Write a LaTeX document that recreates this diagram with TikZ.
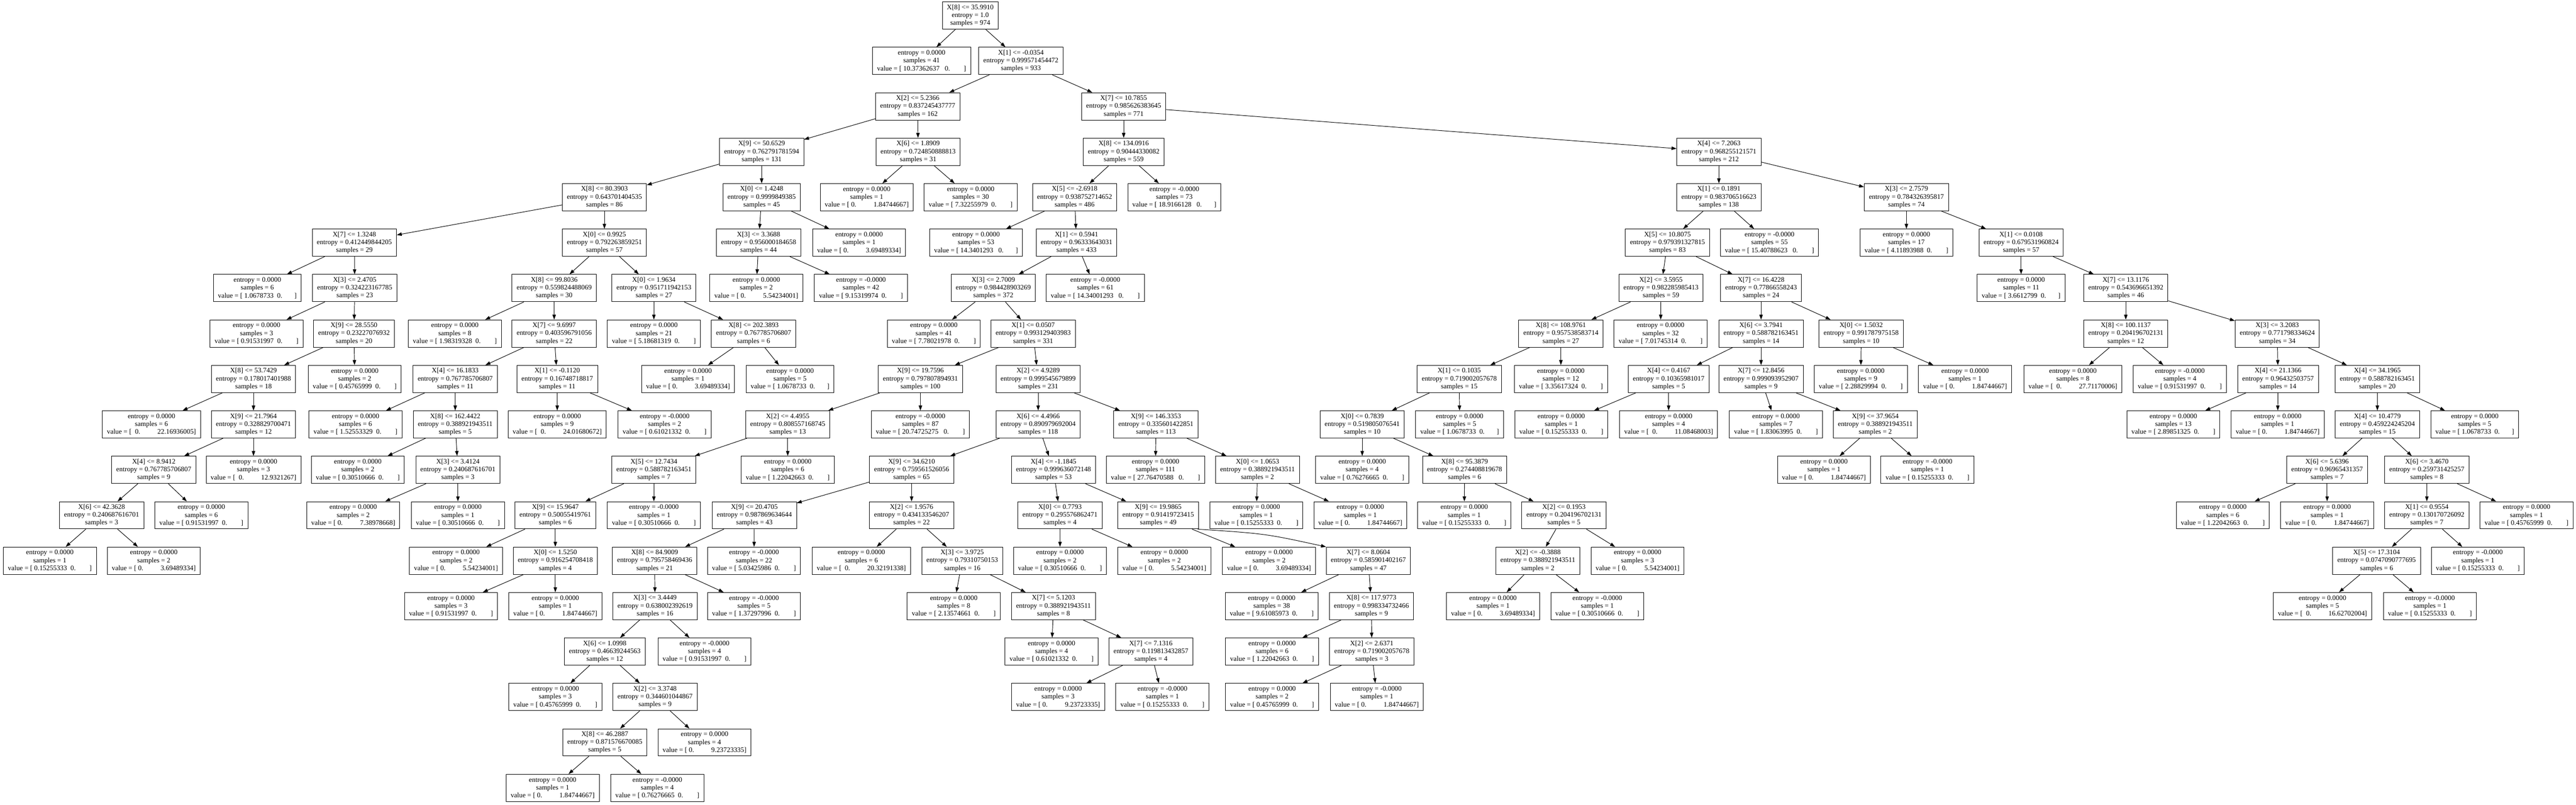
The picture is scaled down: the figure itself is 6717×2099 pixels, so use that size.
\documentclass[tikz,border=0pt]{standalone}
\usepackage{fontspec}
\setmainfont{Liberation Serif}
\usetikzlibrary{arrows.meta}
\newcommand\gsp[1]{\hspace*{#1\fontdimen2\font}}
\newcommand\spl[4]{X[#1] <= #2\\entropy = #3\\samples = #4}
\newcommand\lf[3]{entropy = #1\\samples = #2\\value = [#3]}
\newcommand\vz[3]{ #1\gsp{#2}0.\gsp{#3}}
\newcommand\vo[2]{\gsp{#1}0.\gsp{10}#2}
\tikzset{
  nd/.style={draw, line width=0.013cm, rectangle, align=center, inner xsep=0.12cm, inner ysep=0cm,
    minimum height=0.71cm, font=\fontsize{5.12}{5.83}\selectfont},
  arr/.style={line width=0.013cm, -{Triangle[length=0.13cm,width=0.09cm]}}
}
\begin{document}
\begin{tikzpicture}[x=0.01cm,y=-0.01cm]
\useasboundingbox (0,0) rectangle (6717,2099);
% L0
\node[nd] (n0) at (2530,40.5) {\spl{8}{35.9910}{1.0}{974}};
% L1
\node[nd] (n1) at (2403,159) {\lf{0.0000}{41}{\vz{10.37362637}{3}{8}}};
\node[nd] (n2) at (2662,159) {\spl{1}{-0.0354}{0.999571454472}{933}};
% L2
\node[nd] (n3) at (2393,277.5) {\spl{2}{5.2366}{0.837245437777}{162}};
\node[nd] (n4) at (2930,277.5) {\spl{7}{10.7855}{0.985626383645}{771}};
% L3
\node[nd] (n5) at (1986,396) {\spl{9}{50.6529}{0.762791781594}{131}};
\node[nd] (n6) at (2394,396) {\spl{6}{1.8909}{0.724850888813}{31}};
\node[nd] (n7) at (2930,396) {\spl{8}{134.0916}{0.90444330082}{559}};
\node[nd] (n8) at (4482,396) {\spl{4}{7.2063}{0.968255121571}{212}};
% L4
\node[nd] (n9) at (1576,514.5) {\spl{8}{80.3903}{0.643701404535}{86}};
\node[nd] (n10) at (1986,514.5) {\spl{0}{1.4248}{0.9999849385}{45}};
\node[nd] (n11) at (2260,514.5) {\lf{0.0000}{1}{\vo{1}{1.84744667}}};
\node[nd] (n12) at (2531,514.5) {\lf{0.0000}{30}{\vz{7.32255979}{2}{8}}};
\node[nd] (n13) at (2802,514.5) {\spl{5}{-2.6918}{0.938752714652}{486}};
\node[nd] (n14) at (3062,514.5) {\lf{-0.0000}{73}{\vz{18.9166128}{3}{7}}};
\node[nd] (n15) at (4482,514.5) {\spl{1}{0.1891}{0.983706516623}{138}};
\node[nd] (n16) at (4971,514.5) {\spl{3}{2.7579}{0.784326395817}{74}};
% L5
\node[nd] (n17) at (924,633) {\spl{7}{1.3248}{0.412449844205}{29}};
\node[nd] (n18) at (1576,633) {\spl{0}{0.9925}{0.792263859251}{57}};
\node[nd] (n19) at (1978,633) {\spl{3}{3.3688}{0.956000184658}{44}};
\node[nd] (n20) at (2240,633) {\lf{0.0000}{1}{\vo{1}{3.69489334}}};
\node[nd] (n21) at (2545,633) {\lf{0.0000}{53}{\vz{14.3401293}{3}{7}}};
\node[nd] (n22) at (2807,633) {\spl{1}{0.5941}{0.96333643031}{433}};
\node[nd] (n23) at (4348,633) {\spl{5}{10.8075}{0.979391327815}{83}};
\node[nd] (n24) at (4614,633) {\lf{-0.0000}{55}{\vz{15.40788623}{3}{8}}};
\node[nd] (n25) at (4971,633) {\lf{0.0000}{17}{\vz{4.11893988}{2}{8}}};
\node[nd] (n26) at (5270,633) {\spl{1}{0.0108}{0.679531960824}{57}};
% L6
\node[nd] (n27) at (671,751.5) {\lf{0.0000}{6}{\vz{1.0678733}{2}{7}}};
\node[nd] (n28) at (925,751.5) {\spl{3}{2.4705}{0.324223167785}{23}};
\node[nd] (n29) at (1445,751.5) {\spl{8}{99.8036}{0.559824488069}{30}};
\node[nd] (n30) at (1705,751.5) {\spl{0}{1.9634}{0.951711942153}{27}};
\node[nd] (n31) at (1972,751.5) {\lf{0.0000}{2}{\vo{1}{5.54234001}}};
\node[nd] (n32) at (2245,751.5) {\lf{-0.0000}{42}{\vz{9.15319974}{2}{8}}};
\node[nd] (n33) at (2590,751.5) {\spl{3}{2.7009}{0.984428903269}{372}};
\node[nd] (n34) at (2856,751.5) {\lf{-0.0000}{61}{\vz{14.34001293}{3}{8}}};
\node[nd] (n35) at (4331,751.5) {\spl{2}{3.5955}{0.982285985413}{59}};
\node[nd] (n36) at (4592,751.5) {\spl{7}{16.4228}{0.77866558243}{24}};
\node[nd] (n37) at (5270,751.5) {\lf{0.0000}{11}{\vz{3.6612799}{2}{7}}};
\node[nd] (n38) at (5543,751.5) {\spl{7}{13.1176}{0.543696651392}{46}};
% L7
\node[nd] (n39) at (669,870) {\lf{0.0000}{3}{\vz{0.91531997}{2}{8}}};
\node[nd] (n40) at (923,870) {\spl{9}{28.5550}{0.23227076932}{20}};
\node[nd] (n41) at (1186,870) {\lf{0.0000}{8}{\vz{1.98319328}{2}{8}}};
\node[nd] (n42) at (1445,870) {\spl{7}{9.6997}{0.403596791056}{22}};
\node[nd] (n43) at (1705,870) {\lf{0.0000}{21}{\vz{5.18681319}{2}{8}}};
\node[nd] (n44) at (1965,870) {\spl{8}{202.3893}{0.767785706807}{6}};
\node[nd] (n45) at (2435,870) {\lf{0.0000}{41}{\vz{7.78021978}{2}{8}}};
\node[nd] (n46) at (2694,870) {\spl{1}{0.0507}{0.993129403983}{331}};
\node[nd] (n47) at (4070,870) {\spl{8}{108.9761}{0.957538583714}{27}};
\node[nd] (n48) at (4330,870) {\lf{0.0000}{32}{\vz{7.01745314}{2}{8}}};
\node[nd] (n49) at (4592,870) {\spl{6}{3.7941}{0.588782163451}{14}};
\node[nd] (n50) at (4853,870) {\spl{0}{1.5032}{0.991787975158}{10}};
\node[nd] (n51) at (5543,870) {\spl{8}{100.1137}{0.204196702131}{12}};
\node[nd] (n52) at (5938,870) {\spl{3}{3.2083}{0.771798334624}{34}};
% L8
\node[nd] (n53) at (661,988.5) {\spl{8}{53.7429}{0.178017401988}{18}};
\node[nd] (n54) at (925,988.5) {\lf{0.0000}{2}{\vz{0.45765999}{2}{8}}};
\node[nd] (n55) at (1187,988.5) {\spl{4}{16.1833}{0.767785706807}{11}};
\node[nd] (n56) at (1453,988.5) {\spl{1}{-0.1120}{0.16748718817}{11}};
\node[nd] (n57) at (1794,988.5) {\lf{0.0000}{1}{\vo{1}{3.69489334}}};
\node[nd] (n58) at (2060,988.5) {\lf{0.0000}{5}{\vz{1.0678733}{2}{7}}};
\node[nd] (n59) at (2400,988.5) {\spl{9}{19.7596}{0.797807894931}{100}};
\node[nd] (n60) at (2707,988.5) {\spl{2}{4.9289}{0.999545679899}{231}};
\node[nd] (n61) at (3805,988.5) {\spl{1}{0.1035}{0.719002057678}{15}};
\node[nd] (n62) at (4070,988.5) {\lf{0.0000}{12}{\vz{3.35617324}{2}{8}}};
\node[nd] (n63) at (4351,988.5) {\spl{4}{0.4167}{0.10365981017}{5}};
\node[nd] (n64) at (4592,988.5) {\spl{7}{12.8456}{0.999093952907}{9}};
\node[nd] (n65) at (4852,988.5) {\lf{0.0000}{9}{\vz{2.28829994}{2}{8}}};
\node[nd] (n66) at (5124,988.5) {\lf{0.0000}{1}{\vo{1}{1.84744667}}};
\node[nd] (n67) at (5405,988.5) {\lf{0.0000}{8}{\vo{2}{27.71170006}}};
\node[nd] (n68) at (5684,988.5) {\lf{-0.0000}{4}{\vz{0.91531997}{2}{8}}};
\node[nd] (n69) at (5940,988.5) {\spl{4}{21.1366}{0.96432503757}{14}};
\node[nd] (n70) at (6199,988.5) {\spl{4}{34.1965}{0.588782163451}{20}};
% L9
\node[nd] (n71) at (395,1107) {\lf{0.0000}{6}{\vo{2}{22.16936005}}};
\node[nd] (n72) at (661,1107) {\spl{9}{21.7964}{0.328829700471}{12}};
\node[nd] (n73) at (927,1107) {\lf{0.0000}{6}{\vz{1.52553329}{2}{8}}};
\node[nd] (n74) at (1187,1107) {\spl{8}{162.4422}{0.388921943511}{5}};
\node[nd] (n75) at (1453,1107) {\lf{0.0000}{9}{\vo{2}{24.01680672}}};
\node[nd] (n76) at (1733,1107) {\lf{-0.0000}{2}{\vz{0.61021332}{2}{8}}};
\node[nd] (n77) at (2054,1107) {\spl{2}{4.4955}{0.808557168745}{13}};
\node[nd] (n78) at (2400,1107) {\lf{-0.0000}{87}{\vz{20.74725275}{3}{8}}};
\node[nd] (n79) at (2707,1107) {\spl{6}{4.4966}{0.890979692004}{118}};
\node[nd] (n80) at (3014,1107) {\spl{9}{146.3353}{0.335601422851}{113}};
\node[nd] (n81) at (3552,1107) {\spl{0}{0.7839}{0.519805076541}{10}};
\node[nd] (n82) at (3806,1107) {\lf{0.0000}{5}{\vz{1.0678733}{2}{7}}};
\node[nd] (n83) at (4071,1107) {\lf{0.0000}{1}{\vz{0.15255333}{2}{8}}};
\node[nd] (n84) at (4351,1107) {\lf{0.0000}{4}{\vo{2}{11.08468003}}};
\node[nd] (n85) at (4631,1107) {\lf{0.0000}{7}{\vz{1.83063995}{2}{8}}};
\node[nd] (n86) at (4890,1107) {\spl{9}{37.9654}{0.388921943511}{2}};
\node[nd] (n87) at (5667,1107) {\lf{0.0000}{13}{\vz{2.89851325}{2}{8}}};
\node[nd] (n88) at (5939,1107) {\lf{0.0000}{1}{\vo{1}{1.84744667}}};
\node[nd] (n89) at (6199,1107) {\spl{4}{10.4779}{0.459224245204}{15}};
\node[nd] (n90) at (6453,1107) {\lf{0.0000}{5}{\vz{1.0678733}{2}{7}}};
% L10
\node[nd] (n91) at (401,1225.5) {\spl{4}{8.9412}{0.767785706807}{9}};
\node[nd] (n92) at (661,1225.5) {\lf{0.0000}{3}{\vo{2}{12.9321267}}};
\node[nd] (n93) at (933,1225.5) {\lf{0.0000}{2}{\vz{0.30510666}{2}{8}}};
\node[nd] (n94) at (1194,1225.5) {\spl{3}{3.4124}{0.240687616701}{3}};
\node[nd] (n95) at (1705,1225.5) {\spl{5}{12.7434}{0.588782163451}{7}};
\node[nd] (n96) at (2054,1225.5) {\lf{0.0000}{6}{\vz{1.22042663}{2}{8}}};
\node[nd] (n97) at (2377,1225.5) {\spl{9}{34.6210}{0.759561526056}{65}};
\node[nd] (n98) at (2747,1225.5) {\spl{4}{-1.1845}{0.999636072148}{53}};
\node[nd] (n99) at (3013,1225.5) {\lf{0.0000}{111}{\vz{27.76470588}{3}{8}}};
\node[nd] (n100) at (3279,1225.5) {\spl{0}{1.0653}{0.388921943511}{2}};
\node[nd] (n101) at (3552,1225.5) {\lf{0.0000}{4}{\vz{0.76276665}{2}{8}}};
\node[nd] (n102) at (3819,1225.5) {\spl{8}{95.3879}{0.274408819678}{6}};
\node[nd] (n103) at (4756,1225.5) {\lf{0.0000}{1}{\vo{1}{1.84744667}}};
\node[nd] (n104) at (5026,1225.5) {\lf{-0.0000}{1}{\vz{0.15255333}{2}{8}}};
\node[nd] (n105) at (6068,1225.5) {\spl{6}{5.6396}{0.96965431357}{7}};
\node[nd] (n106) at (6328,1225.5) {\spl{6}{3.4670}{0.259731425257}{8}};
% L11
\node[nd] (n107) at (265,1344) {\spl{6}{42.3628}{0.240687616701}{3}};
\node[nd] (n108) at (525,1344) {\lf{0.0000}{6}{\vz{0.91531997}{2}{8}}};
\node[nd] (n109) at (921,1344) {\lf{0.0000}{2}{\vo{1}{7.38978668}}};
\node[nd] (n110) at (1194,1344) {\lf{0.0000}{1}{\vz{0.30510666}{2}{8}}};
\node[nd] (n111) at (1448,1344) {\spl{9}{15.9647}{0.50055419761}{6}};
\node[nd] (n112) at (1705,1344) {\lf{-0.0000}{1}{\vz{0.30510666}{2}{8}}};
\node[nd] (n113) at (1967,1344) {\spl{9}{20.4705}{0.987869634644}{43}};
\node[nd] (n114) at (2377,1344) {\spl{2}{1.9576}{0.434133546207}{22}};
\node[nd] (n115) at (2764,1344) {\spl{0}{0.7793}{0.295576862471}{4}};
\node[nd] (n116) at (3020,1344) {\spl{9}{19.9865}{0.91419723415}{49}};
\node[nd] (n117) at (3276,1344) {\lf{0.0000}{1}{\vz{0.15255333}{2}{8}}};
\node[nd] (n118) at (3547,1344) {\lf{0.0000}{1}{\vo{1}{1.84744667}}};
\node[nd] (n119) at (3818,1344) {\lf{0.0000}{1}{\vz{0.15255333}{2}{8}}};
\node[nd] (n120) at (4078,1344) {\spl{2}{0.1953}{0.204196702131}{5}};
\node[nd] (n121) at (5796,1344) {\lf{0.0000}{6}{\vz{1.22042663}{2}{8}}};
\node[nd] (n122) at (6068,1344) {\lf{0.0000}{1}{\vo{1}{1.84744667}}};
\node[nd] (n123) at (6328,1344) {\spl{1}{0.9554}{0.130170726092}{7}};
\node[nd] (n124) at (6588,1344) {\lf{0.0000}{1}{\vz{0.45765999}{2}{8}}};
% L12
\node[nd] (n125) at (130,1462.5) {\lf{0.0000}{1}{\vz{0.15255333}{2}{8}}};
\node[nd] (n126) at (401,1462.5) {\lf{0.0000}{2}{\vo{1}{3.69489334}}};
\node[nd] (n127) at (1189,1462.5) {\lf{0.0000}{2}{\vo{1}{5.54234001}}};
\node[nd] (n128) at (1448,1462.5) {\spl{0}{1.5250}{0.916254708418}{4}};
\node[nd] (n129) at (1707,1462.5) {\spl{8}{84.9009}{0.795758469436}{21}};
\node[nd] (n130) at (1966,1462.5) {\lf{-0.0000}{22}{\vz{5.03425986}{2}{8}}};
\node[nd] (n131) at (2246,1462.5) {\lf{0.0000}{6}{\vo{2}{20.32191338}}};
\node[nd] (n132) at (2509,1462.5) {\spl{3}{3.9725}{0.79310750153}{16}};
\node[nd] (n133) at (2764,1462.5) {\lf{0.0000}{2}{\vz{0.30510666}{2}{8}}};
\node[nd] (n134) at (3036,1462.5) {\lf{0.0000}{2}{\vo{1}{5.54234001}}};
\node[nd] (n135) at (3309,1462.5) {\lf{0.0000}{2}{\vo{1}{3.69489334}}};
\node[nd] (n136) at (3568,1462.5) {\spl{7}{8.0604}{0.585901402167}{47}};
\node[nd] (n137) at (4010,1462.5) {\spl{2}{-0.3888}{0.388921943511}{2}};
\node[nd] (n138) at (4270,1462.5) {\lf{0.0000}{3}{\vo{1}{5.54234001}}};
\node[nd] (n139) at (6197,1462.5) {\spl{5}{17.3104}{0.0747090777695}{6}};
\node[nd] (n140) at (6461,1462.5) {\lf{-0.0000}{1}{\vz{0.15255333}{2}{8}}};
% L13
\node[nd] (n141) at (1176,1581) {\lf{0.0000}{3}{\vz{0.91531997}{2}{8}}};
\node[nd] (n142) at (1448,1581) {\lf{0.0000}{1}{\vo{1}{1.84744667}}};
\node[nd] (n143) at (1708,1581) {\spl{3}{3.4449}{0.638002392619}{16}};
\node[nd] (n144) at (1966,1581) {\lf{-0.0000}{5}{\vz{1.37297996}{2}{8}}};
\node[nd] (n145) at (2487,1581) {\lf{0.0000}{8}{\vz{2.13574661}{2}{8}}};
\node[nd] (n146) at (2747,1581) {\spl{7}{5.1203}{0.388921943511}{8}};
\node[nd] (n147) at (3316,1581) {\lf{0.0000}{38}{\vz{9.61085973}{2}{8}}};
\node[nd] (n148) at (3576,1581) {\spl{8}{117.9773}{0.998334732466}{9}};
\node[nd] (n149) at (3893,1581) {\lf{0.0000}{1}{\vo{1}{3.69489334}}};
\node[nd] (n150) at (4165,1581) {\lf{-0.0000}{1}{\vz{0.30510666}{2}{8}}};
\node[nd] (n151) at (6056,1581) {\lf{0.0000}{5}{\vo{2}{16.62702004}}};
\node[nd] (n152) at (6336,1581) {\lf{-0.0000}{1}{\vz{0.15255333}{2}{8}}};
% L14
\node[nd] (n153) at (1577,1699.5) {\spl{6}{1.0998}{0.46639244563}{12}};
\node[nd] (n154) at (1837,1699.5) {\lf{-0.0000}{4}{\vz{0.91531997}{2}{8}}};
\node[nd] (n155) at (2742,1699.5) {\lf{0.0000}{4}{\vz{0.61021332}{2}{8}}};
\node[nd] (n156) at (3001,1699.5) {\spl{7}{7.1316}{0.119813432857}{4}};
\node[nd] (n157) at (3317,1699.5) {\lf{0.0000}{6}{\vz{1.22042663}{2}{8}}};
\node[nd] (n158) at (3577,1699.5) {\spl{2}{2.6371}{0.719002057678}{3}};
% L15
\node[nd] (n159) at (1448,1818) {\lf{0.0000}{3}{\vz{0.45765999}{2}{8}}};
\node[nd] (n160) at (1708,1818) {\spl{2}{3.3748}{0.344601044867}{9}};
\node[nd] (n161) at (2759,1818) {\lf{0.0000}{3}{\vo{1}{9.23723335}}};
\node[nd] (n162) at (3031,1818) {\lf{-0.0000}{1}{\vz{0.15255333}{2}{8}}};
\node[nd] (n163) at (3317,1818) {\lf{0.0000}{2}{\vz{0.45765999}{2}{8}}};
\node[nd] (n164) at (3590,1818) {\lf{-0.0000}{1}{\vo{1}{1.84744667}}};
% L16
\node[nd] (n165) at (1577,1936.5) {\spl{8}{46.2887}{0.871576670085}{5}};
\node[nd] (n166) at (1837,1936.5) {\lf{0.0000}{4}{\vo{1}{9.23723335}}};
% L17
\node[nd] (n167) at (1441,2055) {\lf{0.0000}{1}{\vo{1}{1.84744667}}};
\node[nd] (n168) at (1714,2055) {\lf{-0.0000}{4}{\vz{0.76276665}{2}{8}}};
% edges
\foreach \p/\c in {n0/n1,n0/n2,n2/n3,n2/n4,n3/n5,n3/n6,n4/n7,n4/n8,
 n5/n9,n5/n10,n6/n11,n6/n12,n7/n13,n7/n14,n8/n15,n8/n16,
 n9/n17,n9/n18,n10/n19,n10/n20,n13/n21,n13/n22,n15/n23,n15/n24,n16/n25,n16/n26,
 n17/n27,n17/n28,n18/n29,n18/n30,n19/n31,n19/n32,n22/n33,n22/n34,n23/n35,n23/n36,n26/n37,n26/n38,
 n28/n39,n28/n40,n29/n41,n29/n42,n30/n43,n30/n44,n33/n45,n33/n46,n35/n47,n35/n48,n36/n49,n36/n50,n38/n51,n38/n52,
 n40/n53,n40/n54,n42/n55,n42/n56,n44/n57,n44/n58,n46/n59,n46/n60,n47/n61,n47/n62,n49/n63,n49/n64,n50/n65,n50/n66,n51/n67,n51/n68,n52/n69,n52/n70,
 n53/n71,n53/n72,n55/n73,n55/n74,n56/n75,n56/n76,n59/n77,n59/n78,n60/n79,n60/n80,n61/n81,n61/n82,n63/n83,n63/n84,n64/n85,n64/n86,n69/n87,n69/n88,n70/n89,n70/n90,
 n72/n91,n72/n92,n74/n93,n74/n94,n77/n95,n77/n96,n79/n97,n79/n98,n80/n99,n80/n100,n81/n101,n81/n102,n86/n103,n86/n104,n89/n105,n89/n106,
 n91/n107,n91/n108,n94/n109,n94/n110,n95/n111,n95/n112,n97/n113,n97/n114,n98/n115,n98/n116,n100/n117,n100/n118,n102/n119,n102/n120,n105/n121,n105/n122,n106/n123,n106/n124,
 n107/n125,n107/n126,n111/n127,n111/n128,n113/n129,n113/n130,n114/n131,n114/n132,n115/n133,n115/n134,n116/n135,n120/n137,n120/n138,n123/n139,n123/n140,
 n128/n141,n128/n142,n129/n143,n129/n144,n132/n145,n132/n146,n136/n147,n136/n148,n137/n149,n137/n150,n139/n151,n139/n152,
 n143/n153,n143/n154,n146/n155,n146/n156,n148/n157,n148/n158,
 n153/n159,n153/n160,n156/n161,n156/n162,n158/n163,n158/n164,
 n160/n165,n160/n166,n165/n167,n165/n168}
  \draw[arr] (\p) -- (\c);
\draw[arr] ([xshift=-0.03cm]n116.south east) .. controls (3300,1392) .. (n136.north west);
\end{tikzpicture}
\end{document}
